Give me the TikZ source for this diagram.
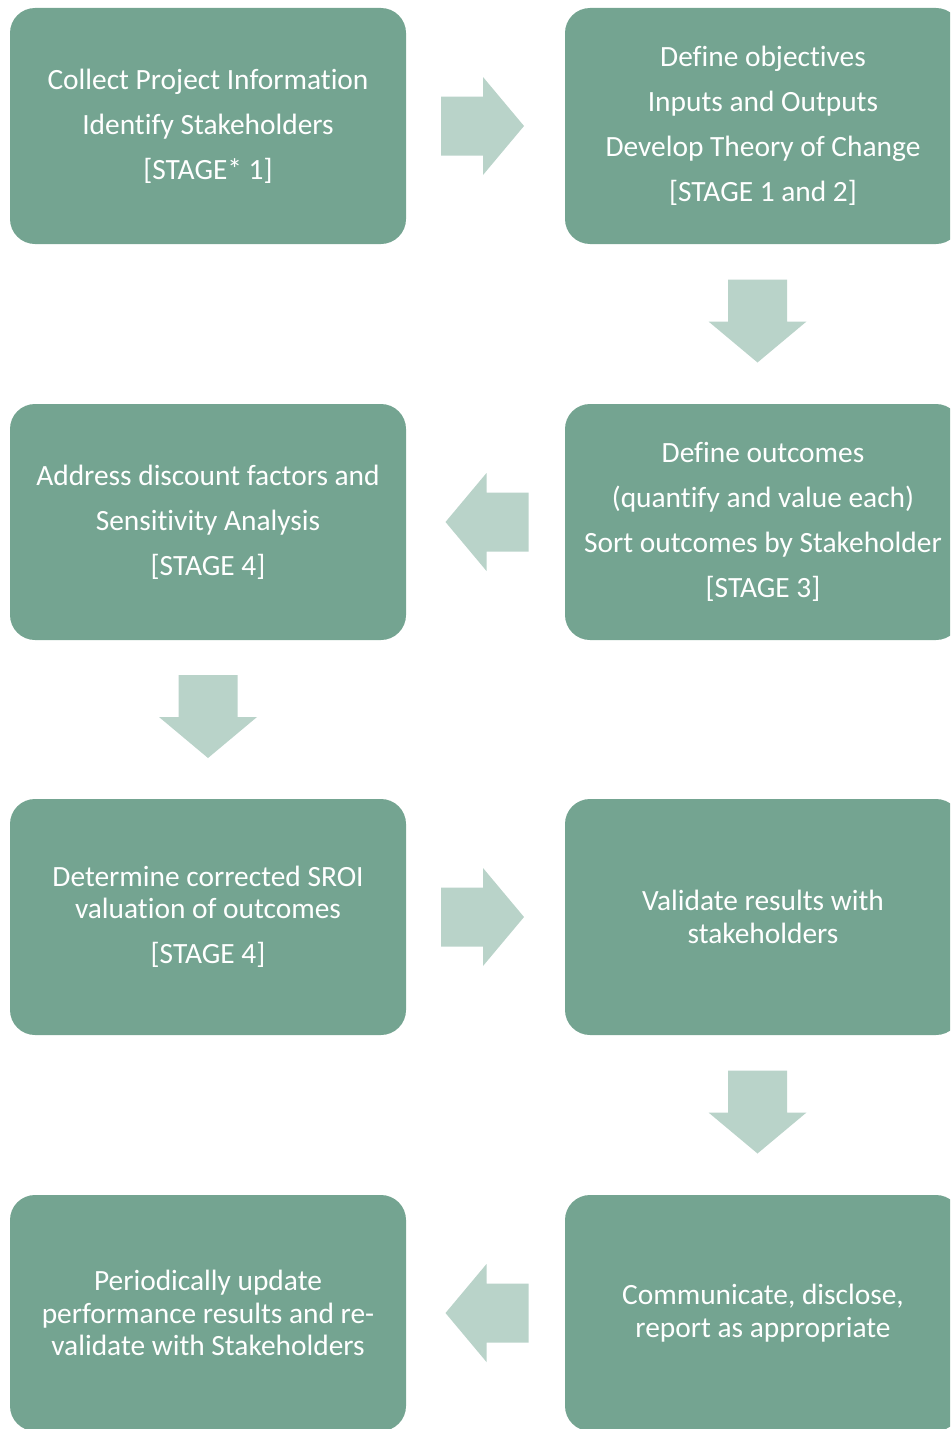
\documentclass[tikz,border=0pt]{standalone}
\usepackage{fontspec}
\setmainfont{Carlito}[Ligatures=NoCommon]
\usetikzlibrary{calc}
\definecolor{boxgreen}{HTML}{74A491}
\definecolor{arrowgreen}{HTML}{B9D3C9}
\tikzset{
  stepbox/.style={fill=boxgreen, draw=none, rounded corners=25pt, minimum width=396pt, minimum height=236pt, inner sep=0pt, text=white, align=center, font=\fontsize{29.4}{32.5}\selectfont},
  blockarrow/.pic={\fill[arrowgreen] (-41.5,-29.5) -- (0.5,-29.5) -- (0.5,-49) -- (41.5,0) -- (0.5,49) -- (0.5,29.5) -- (-41.5,29.5) -- cycle;}
}
\begin{document}
\begin{tikzpicture}[x=1pt,y=-1pt]
\useasboundingbox (0,0) rectangle (950,1429);
\clip (0,0) rectangle (950,1429);
\node[stepbox] (b1) at (208,126) {Collect Project Information\\[12.5pt]Identify Stakeholders\\[12.5pt][STAGE* 1]};
\node[stepbox] (b2) at (763,126) {Define objectives\\[12.5pt]Inputs and Outputs\\[12.5pt]Develop Theory of Change\\[12.5pt][STAGE 1 and 2]};
\node[stepbox] (b3) at (763,522) {Define outcomes\\[12.5pt](quantify and value each)\\[12.5pt]Sort outcomes by Stakeholder\\[12.5pt][STAGE 3]};
\node[stepbox] (b4) at (208,522) {Address discount factors and\\[12.5pt]Sensitivity Analysis\\[12.5pt][STAGE 4]};
\node[stepbox] (b5) at (208,917) {Determine corrected SROI\\valuation of outcomes\\[12.5pt][STAGE 4]};
\node[stepbox] (b6) at (763,917) {Validate results with\\stakeholders};
\node[stepbox] (b7) at (763,1313) {Communicate, disclose,\\report as appropriate};
\node[stepbox] (b8) at (208,1313) {Periodically update\\performance results and re-\\validate with Stakeholders};
\pic at ($(b1.east)!0.5!(b2.west)+(-3,0)$) {blockarrow};
\pic[rotate=-90] at ($(b2.south)!0.5!(b3.north)+(-5.5,-3)$) {blockarrow};
\pic[rotate=180] at ($(b3.west)!0.5!(b4.east)+(1.5,0)$) {blockarrow};
\pic[rotate=-90] at ($(b4.south)!0.5!(b5.north)+(0,-3)$) {blockarrow};
\pic at ($(b5.east)!0.5!(b6.west)+(-3,0)$) {blockarrow};
\pic[rotate=-90] at ($(b6.south)!0.5!(b7.north)+(-5.5,-3)$) {blockarrow};
\pic[rotate=180] at ($(b7.west)!0.5!(b8.east)+(1.5,0)$) {blockarrow};
\end{tikzpicture}
\end{document}
